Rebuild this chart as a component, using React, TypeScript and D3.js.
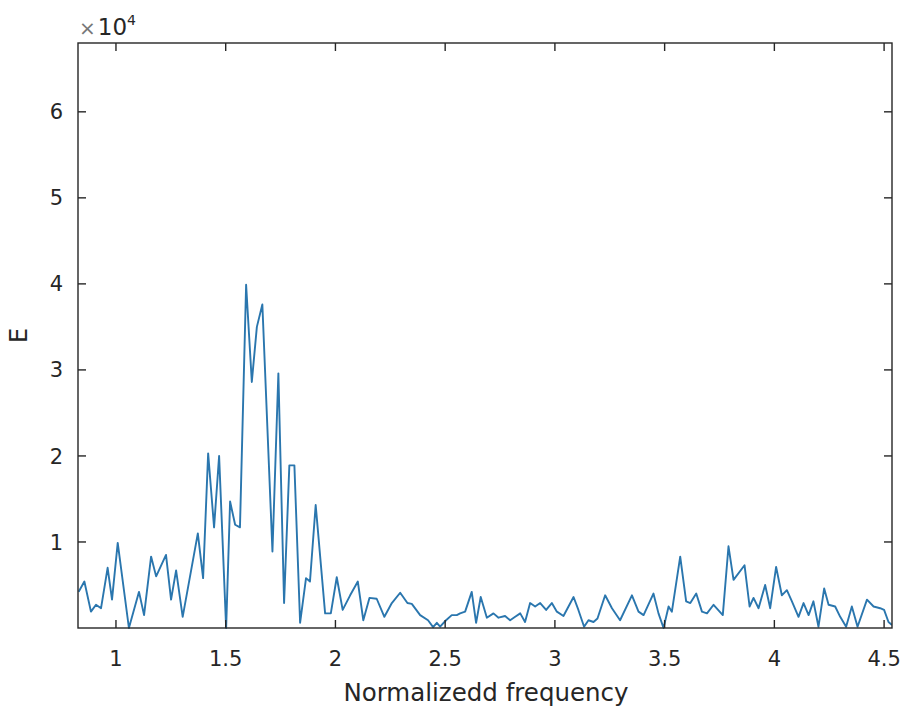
import React from "react";
import * as d3 from "d3";

// Normalized frequency samples
const freq = [
  0.830, 0.856, 0.886, 0.909, 0.932, 0.962, 0.982, 1.008, 1.059, 1.105,
  1.128, 1.160, 1.183, 1.228, 1.251, 1.274, 1.304, 1.373, 1.397, 1.420,
  1.447, 1.470, 1.502, 1.520, 1.543, 1.565, 1.593, 1.619, 1.642, 1.667,
  1.713, 1.740, 1.766, 1.790, 1.813, 1.839, 1.866, 1.884, 1.910, 1.953,
  1.979, 2.006, 2.033, 2.067, 2.102, 2.127, 2.155, 2.188, 2.223, 2.257,
  2.295, 2.328, 2.348, 2.386, 2.422, 2.445, 2.462, 2.477, 2.504, 2.530,
  2.553, 2.568, 2.591, 2.621, 2.641, 2.662, 2.690, 2.720, 2.743, 2.773,
  2.796, 2.819, 2.842, 2.864, 2.887, 2.910, 2.933, 2.960, 2.986, 3.009,
  3.039, 3.085, 3.107, 3.133, 3.153, 3.176, 3.194, 3.229, 3.260, 3.297,
  3.351, 3.381, 3.404, 3.449, 3.472, 3.495, 3.518, 3.533, 3.571, 3.598,
  3.617, 3.644, 3.670, 3.693, 3.723, 3.765, 3.791, 3.814, 3.864, 3.887,
  3.905, 3.928, 3.958, 3.981, 4.008, 4.034, 4.057, 4.080, 4.110, 4.133,
  4.156, 4.178, 4.201, 4.227, 4.247, 4.277, 4.300, 4.327, 4.353, 4.379,
  4.422, 4.452, 4.482, 4.500, 4.520, 4.536,
];

// Energy at each frequency
const energy = [
  4200, 5400, 1900, 2700, 2300, 7000, 3300, 9900, 0, 4200,
  1500, 8300, 6000, 8500, 3300, 6700, 1300, 11000, 5800, 20300,
  11700, 20000, 0, 14700, 12000, 11700, 39900, 28600, 35000, 37600,
  8900, 29600, 2900, 18900, 18900, 600, 5800, 5400, 14300, 1700,
  1700, 5900, 2100, 3800, 5400, 900, 3500, 3400, 1300, 2900,
  4100, 2900, 2800, 1500, 900, 100, 600, 150, 900, 1500,
  1500, 1700, 1900, 4200, 600, 3600, 1200, 1700, 1200, 1400,
  900, 1300, 1700, 700, 2900, 2500, 2900, 2100, 2900, 1900,
  1400, 3600, 2100, 150, 900, 700, 1100, 3800, 2300, 900,
  3800, 1900, 1500, 4000, 1700, 0, 2500, 1900, 8300, 3100,
  2900, 4000, 1900, 1700, 2700, 1500, 9500, 5600, 7300, 2500,
  3500, 2300, 5000, 2300, 7100, 3800, 4400, 3100, 1300, 2900,
  1500, 3100, 150, 4600, 2700, 2500, 1300, 150, 2500, 150,
  3300, 2500, 2300, 2100, 700, 350,
];

const xTicks = [1, 1.5, 2, 2.5, 3, 3.5, 4, 4.5];
const yTicks = [10000, 20000, 30000, 40000, 50000, 60000];

const W = 906;
const H = 714;
const left = 78;
const right = 892;
const top = 43;
const bottom = 628;
const tickLen = 8;
const axisColor = "#262626";
const lineColor = "#2a76ae";
const font = "'DejaVu Sans', 'Open Sans', sans-serif";

export default function App() {
  const x = d3.scaleLinear().domain([0.827, 4.536]).range([left, right]);
  const y = d3.scaleLinear().domain([0, 68000]).range([bottom, top]);

  const line = d3
    .line<number>()
    .x((_, i) => x(freq[i]))
    .y((d) => y(d));

  const path = line(energy) ?? "";

  return (
    <svg
      width={W}
      height={H}
      style={{ position: "absolute", left: 0, top: 0, background: "#fff" }}
    >
      <rect x={0} y={0} width={W} height={H} fill="#fff" />
      <defs>
        <clipPath id="plot-area">
          <rect x={left} y={top - 1} width={right - left} height={bottom - top + 2} />
        </clipPath>
      </defs>

      <path
        d={path}
        fill="none"
        stroke={lineColor}
        strokeWidth={1.9}
        strokeLinejoin="round"
        clipPath="url(#plot-area)"
      />

      {/* frame */}
      <rect
        x={left}
        y={top}
        width={right - left}
        height={bottom - top}
        fill="none"
        stroke={axisColor}
        strokeWidth={1.4}
      />

      {/* x ticks, bottom and top */}
      {xTicks.map((t) => (
        <g key={`xt${t}`}>
          <line x1={x(t)} x2={x(t)} y1={bottom} y2={bottom - tickLen} stroke={axisColor} strokeWidth={1.4} />
          <line x1={x(t)} x2={x(t)} y1={top} y2={top + tickLen} stroke={axisColor} strokeWidth={1.4} />
          <text
            x={x(t)}
            y={666}
            textAnchor="middle"
            fontFamily={font}
            fontSize={21}
            fill={axisColor}
          >
            {t}
          </text>
        </g>
      ))}

      {/* y ticks, left and right */}
      {yTicks.map((t) => (
        <g key={`yt${t}`}>
          <line x1={left} x2={left + tickLen} y1={y(t)} y2={y(t)} stroke={axisColor} strokeWidth={1.4} />
          <line x1={right} x2={right - tickLen} y1={y(t)} y2={y(t)} stroke={axisColor} strokeWidth={1.4} />
          <text
            x={63}
            y={y(t)}
            dy="0.36em"
            textAnchor="end"
            fontFamily={font}
            fontSize={21}
            fill={axisColor}
          >
            {t / 10000}
          </text>
        </g>
      ))}

      {/* exponent marker */}
      <text x={79} y={35} fontFamily={font} fontSize={23} fill={axisColor}>
        <tspan fill="#777" fontSize={20}>×</tspan>
        <tspan dx={2}>10</tspan>
        <tspan dy={-10} fontSize={14}>4</tspan>
      </text>

      {/* axis labels */}
      <text
        x={486}
        y={701}
        textAnchor="middle"
        fontFamily={font}
        fontSize={24.5}
        fill={axisColor}
      >
        Normalizedd frequency
      </text>
      <text
        transform={`translate(27, ${(top + bottom) / 2}) rotate(-90)`}
        textAnchor="middle"
        fontFamily={font}
        fontSize={24}
        fill={axisColor}
      >
        E
      </text>
    </svg>
  );
}
